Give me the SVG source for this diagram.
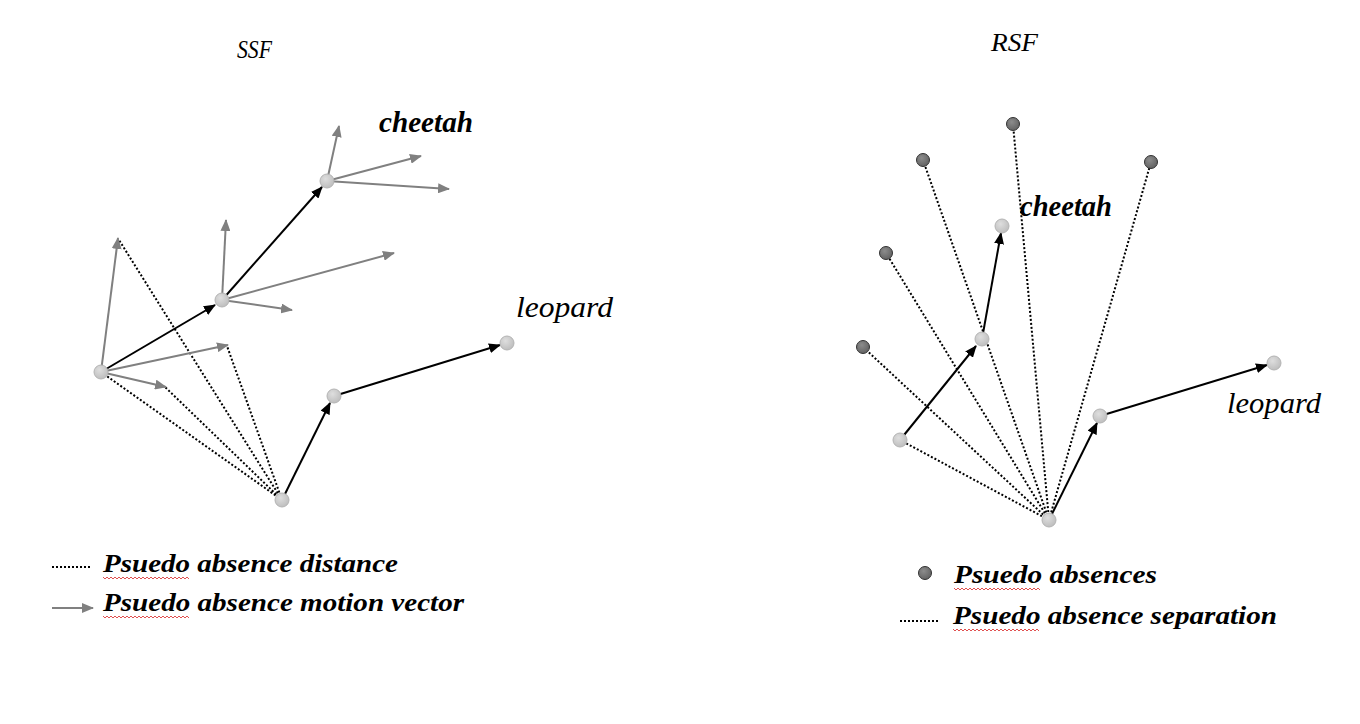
<svg xmlns="http://www.w3.org/2000/svg" width="1360" height="724" viewBox="0 0 1360 724">
<style>
.lbl{font-family:"Liberation Serif","DejaVu Serif","Noto Serif",serif;font-style:italic;fill:#000}
.b{font-weight:bold}
.blk{stroke:#000;stroke-width:2;fill:none;marker-end:url(#ab)}
.gry{stroke:#808080;stroke-width:2;fill:none;marker-end:url(#ag)}
.dot{stroke:#000;stroke-width:2;stroke-dasharray:2,2;fill:none}
.node{fill:url(#lg);stroke:#b4b4b4;stroke-width:1}
.abs{fill:url(#dg);stroke:#333;stroke-width:1}
.sq{stroke:#e05050;stroke-width:1;fill:none}
</style>
<defs>
<marker id="ab" markerUnits="userSpaceOnUse" markerWidth="12" markerHeight="10" refX="11" refY="5" orient="auto"><path d="M0,0 L12,5 L0,10 Z" fill="#000"/></marker>
<marker id="ag" markerUnits="userSpaceOnUse" markerWidth="12" markerHeight="10" refX="11" refY="5" orient="auto"><path d="M0,0 L12,5 L0,10 Z" fill="#808080"/></marker>
<radialGradient id="lg" cx="0.4" cy="0.35" r="0.7"><stop offset="0" stop-color="#dedede"/><stop offset="1" stop-color="#bcbcbc"/></radialGradient>
<radialGradient id="dg" cx="0.4" cy="0.35" r="0.7"><stop offset="0" stop-color="#8c8c8c"/><stop offset="1" stop-color="#606060"/></radialGradient>
</defs>
<rect width="1360" height="724" fill="#fff"/>

<g id="connectors">
<line class="dot" x1="282" y1="500" x2="101" y2="372"/>
<line class="dot" x1="282" y1="500" x2="164" y2="386"/>
<line class="dot" x1="282" y1="500" x2="119" y2="240"/>
<line class="dot" x1="282" y1="500" x2="227" y2="346"/>
<line class="gry" x1="101" y1="372" x2="118" y2="238"/>
<line class="gry" x1="101" y1="372" x2="228" y2="345"/>
<line class="gry" x1="101" y1="372" x2="166" y2="387"/>
<line class="gry" x1="222" y1="300" x2="226" y2="220"/>
<line class="gry" x1="222" y1="300" x2="394" y2="253"/>
<line class="gry" x1="222" y1="300" x2="292" y2="310"/>
<line class="gry" x1="327" y1="181" x2="339" y2="126"/>
<line class="gry" x1="327" y1="181" x2="421" y2="156"/>
<line class="gry" x1="327" y1="181" x2="449" y2="189"/>
<line class="blk" x1="101" y1="372" x2="215" y2="305"/>
<line class="blk" x1="222" y1="300" x2="322" y2="187"/>
<line class="blk" x1="282" y1="500" x2="330" y2="403"/>
<line class="blk" x1="334" y1="396" x2="500" y2="345"/>
<line class="dot" x1="1049" y1="520" x2="1013" y2="124"/>
<line class="dot" x1="1049" y1="520" x2="923" y2="160"/>
<line class="dot" x1="1049" y1="520" x2="1151" y2="162"/>
<line class="dot" x1="1049" y1="520" x2="886" y2="253"/>
<line class="dot" x1="1049" y1="520" x2="863" y2="347"/>
<line class="dot" x1="1049" y1="520" x2="900" y2="440"/>
<line class="blk" x1="900" y1="440" x2="976" y2="346"/>
<line class="blk" x1="982" y1="339" x2="1001" y2="233"/>
<line class="blk" x1="1049" y1="520" x2="1097" y2="423"/>
<line class="blk" x1="1100" y1="416" x2="1267" y2="365"/>
</g>

<g id="ssf-nodes">
<circle id="ssf-a" class="node" cx="101" cy="372" r="7"/>
<circle id="ssf-b" class="node" cx="222" cy="300" r="7"/>
<circle id="ssf-c" class="node" cx="327" cy="181" r="7"/>
<circle id="ssf-d" class="node" cx="282" cy="500" r="7"/>
<circle id="ssf-e" class="node" cx="334" cy="396" r="7"/>
<circle id="ssf-f" class="node" cx="507" cy="343" r="7"/>
</g>

<g id="rsf-absences">
<circle class="abs" cx="1013" cy="124" r="6.5"/>
<circle class="abs" cx="923" cy="160" r="6.5"/>
<circle class="abs" cx="1151" cy="162" r="6.5"/>
<circle class="abs" cx="886" cy="253" r="6.5"/>
<circle class="abs" cx="863" cy="347" r="6.5"/>
</g>

<g id="rsf-nodes">
<circle id="rsf-p" class="node" cx="900" cy="440" r="7"/>
<circle id="rsf-q" class="node" cx="982" cy="339" r="7"/>
<circle id="rsf-r" class="node" cx="1002" cy="226" r="7"/>
<circle id="rsf-s" class="node" cx="1049" cy="520" r="7"/>
<circle id="rsf-t" class="node" cx="1100" cy="416" r="7"/>
<circle id="rsf-u" class="node" cx="1274" cy="363" r="7"/>
</g>

<g id="labels">
<text class="lbl" x="237" y="58" font-size="25" textLength="35" lengthAdjust="spacingAndGlyphs">SSF</text>
<text class="lbl" x="991" y="51" font-size="26" textLength="47" lengthAdjust="spacingAndGlyphs">RSF</text>
<text class="lbl b" x="379" y="132" font-size="29" textLength="94" lengthAdjust="spacingAndGlyphs">cheetah</text>
<text class="lbl" x="516" y="317" font-size="29" textLength="97" lengthAdjust="spacingAndGlyphs">leopard</text>
<text class="lbl b" x="1020" y="216" font-size="29" textLength="92" lengthAdjust="spacingAndGlyphs">cheetah</text>
<text class="lbl" x="1227" y="413" font-size="29" textLength="94" lengthAdjust="spacingAndGlyphs">leopard</text>
</g>

<g id="legend-ssf">
<line class="dot" x1="52" y1="567" x2="92" y2="567"/>
<text class="lbl b" x="103" y="572" font-size="26" textLength="295" lengthAdjust="spacingAndGlyphs">Psuedo absence distance</text>
<path class="sq" d="M103,577 l2,2 l2,-2 l2,2 l2,-2 l2,2 l2,-2 l2,2 l2,-2 l2,2 l2,-2 l2,2 l2,-2 l2,2 l2,-2 l2,2 l2,-2 l2,2 l2,-2 l2,2 l2,-2 l2,2 l2,-2 l2,2 l2,-2 l2,2 l2,-2 l2,2 l2,-2 l2,2 l2,-2 l2,2 l2,-2 l2,2 l2,-2 l2,2 l2,-2 l2,2 l2,-2 l2,2 l2,-2 l2,2 l2,-2 l2,2"/>
<line class="gry" x1="52" y1="608" x2="93" y2="608"/>
<text class="lbl b" x="103" y="611" font-size="26" textLength="361" lengthAdjust="spacingAndGlyphs">Psuedo absence motion vector</text>
<path class="sq" d="M103,616 l2,2 l2,-2 l2,2 l2,-2 l2,2 l2,-2 l2,2 l2,-2 l2,2 l2,-2 l2,2 l2,-2 l2,2 l2,-2 l2,2 l2,-2 l2,2 l2,-2 l2,2 l2,-2 l2,2 l2,-2 l2,2 l2,-2 l2,2 l2,-2 l2,2 l2,-2 l2,2 l2,-2 l2,2 l2,-2 l2,2 l2,-2 l2,2 l2,-2 l2,2 l2,-2 l2,2 l2,-2 l2,2 l2,-2 l2,2"/>
</g>

<g id="legend-rsf">
<circle class="abs" cx="925" cy="573" r="6.5"/>
<text class="lbl b" x="954" y="583" font-size="26" textLength="203" lengthAdjust="spacingAndGlyphs">Psuedo absences</text>
<path class="sq" d="M954,588 l2,2 l2,-2 l2,2 l2,-2 l2,2 l2,-2 l2,2 l2,-2 l2,2 l2,-2 l2,2 l2,-2 l2,2 l2,-2 l2,2 l2,-2 l2,2 l2,-2 l2,2 l2,-2 l2,2 l2,-2 l2,2 l2,-2 l2,2 l2,-2 l2,2 l2,-2 l2,2 l2,-2 l2,2 l2,-2 l2,2 l2,-2 l2,2 l2,-2 l2,2 l2,-2 l2,2 l2,-2 l2,2 l2,-2 l2,2"/>
<line class="dot" x1="900" y1="621" x2="940" y2="621"/>
<text class="lbl b" x="953" y="624" font-size="26" textLength="324" lengthAdjust="spacingAndGlyphs">Psuedo absence separation</text>
<path class="sq" d="M953,629 l2,2 l2,-2 l2,2 l2,-2 l2,2 l2,-2 l2,2 l2,-2 l2,2 l2,-2 l2,2 l2,-2 l2,2 l2,-2 l2,2 l2,-2 l2,2 l2,-2 l2,2 l2,-2 l2,2 l2,-2 l2,2 l2,-2 l2,2 l2,-2 l2,2 l2,-2 l2,2 l2,-2 l2,2 l2,-2 l2,2 l2,-2 l2,2 l2,-2 l2,2 l2,-2 l2,2 l2,-2 l2,2 l2,-2 l2,2"/>
</g>
</svg>
